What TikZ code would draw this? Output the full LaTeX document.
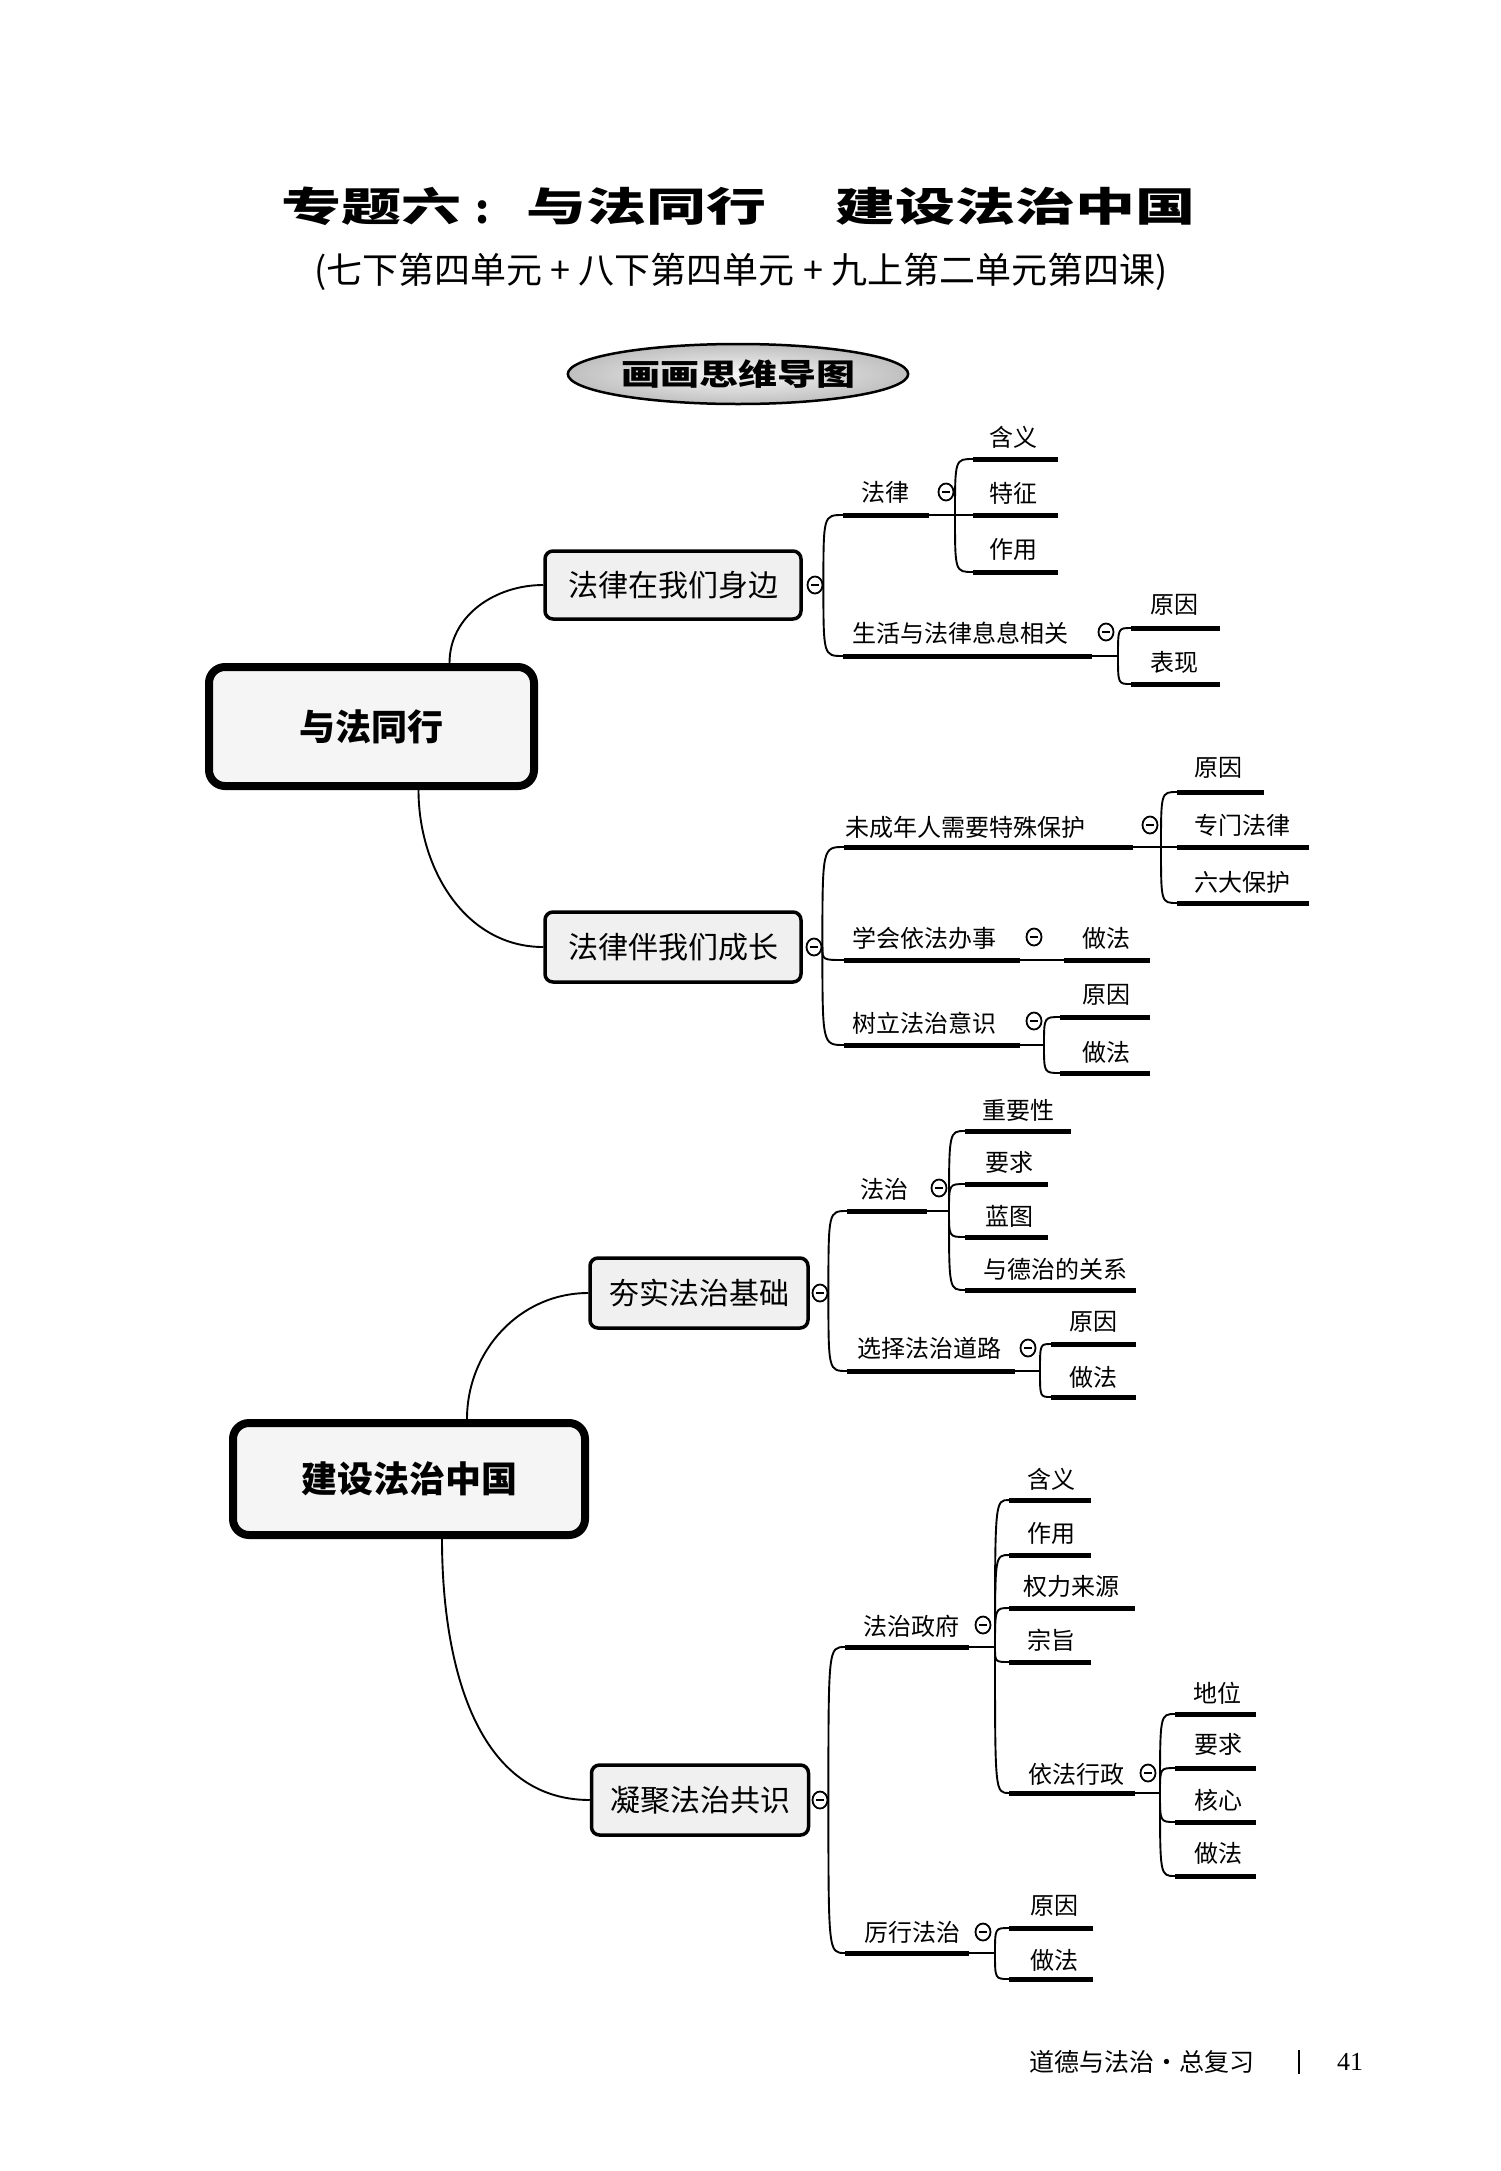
\documentclass[tikz,border=0pt]{standalone}
\usepackage{fontspec}
\setmainfont{Noto Sans CJK SC}
\newfontfamily\serifnum{Liberation Serif}
\usetikzlibrary{shapes.geometric,calc}
\newcommand\fsz[1]{\fontsize{#1}{#1}\selectfont}
\newcommand\mkul[4]{\coordinate (#1s) at (#2,-#4); \coordinate (#1e) at (#3,-#4); \draw[ulline] (#1s) -- (#1e);}
\newcommand\mktr[2]{\draw[thinl] (#1) .. controls (#1 |- #2) .. (#2);}
\begin{document}
\begin{tikzpicture}[x=1pt,y=1pt,
  thinl/.style={line width=1.9pt},
  ulline/.style={line width=5pt},
  lbl/.style={font=\fsz{24}, inner sep=0pt},
  subbox/.style={draw, line width=3.5pt, rounded corners=8pt, fill=gray!12, font=\fsz{30}, inner sep=0pt},
  mainbox/.style={draw, line width=8pt, rounded corners=16pt, fill=gray!8, font=\bfseries\fsz{36}, inner sep=0pt},
  mc/.style={ellipse, draw, line width=1.8pt, minimum width=15pt, minimum height=17pt, inner sep=0pt, fill=white,
    path picture={\draw[line width=2.2pt] ([xshift=-4pt]path picture bounding box.center) -- ([xshift=4pt]path picture bounding box.center);}},
  titlef/.style={font=\bfseries\fsz{40}, inner sep=0pt}
]
\fill[white] (0,0) rectangle (1500,-2171);
\useasboundingbox (0,0) rectangle (1500,-2171);

% ---------- title ----------
\node[titlef, anchor=west] (t1) at (281,-206) {\scalebox{1.5}[1]{专题六}};
\node[titlef] (tc) at (483,-212) {:};
\node[titlef, anchor=west] (t2) at (526,-206) {\scalebox{1.5}[1]{与法同行}};
\node[titlef, anchor=west] (t3) at (835,-206) {\scalebox{1.5}[1]{建设法治中国}};
\node[font=\fsz{36}, inner sep=0pt] (sub) at (741,-272) {(七下第四单元 + 八下第四单元 + 九上第二单元第四课)};
\node[ellipse, draw, line width=2.5pt, minimum width=330pt, minimum height=60pt, inner color=gray!6, outer color=gray!50,
  font=\bfseries\fsz{30}] (el) at (738,-374) {\scalebox{1.3}[1]{画画思维导图}};

% ---------- boxes ----------
\node[mainbox, minimum width=325pt, minimum height=119pt] (m1) at (371.5,-726.5) {与法同行};
\node[mainbox, minimum width=352pt, minimum height=112pt] (m2) at (409,-1479) {建设法治中国};
\node[subbox, minimum width=256pt, minimum height=68pt] (s1) at (673,-585) {法律在我们身边};
\node[subbox, minimum width=256pt, minimum height=70pt] (s2) at (673,-947) {法律伴我们成长};
\node[subbox, minimum width=218pt, minimum height=70pt] (s3) at (699,-1293) {夯实法治基础};
\node[subbox, minimum width=217pt, minimum height=70pt] (s4) at (700,-1800) {凝聚法治共识};

% main -> sub connectors
\draw[thinl] ($(m1.north)+(78,0)$) to[out=90,in=180] (s1.west);
\draw[thinl] ($(m1.south)+(47,0)$) to[out=-90,in=180] (s2.west);
\draw[thinl] ($(m2.north)+(58,0)$) to[out=90,in=180] (s3.west);
\draw[thinl] ($(m2.south)+(33,0)$) to[out=-90,in=180] (s4.west);

% ---------- group 1 ----------
\node[mc] (c1) at (815,-585) {};
\mkul{a1}{843}{929}{515}
\coordinate (a1j) at (955,-515); \draw[thinl] (a1e) -- (a1j);
\node[lbl] (a1t) at (885,-492) {法律};
\mkul{a11}{973}{1058}{459} \node[lbl] (a11t) at (1013,-437) {含义};
\mkul{a12}{973}{1058}{515} \node[lbl] (a12t) at (1013,-493) {特征};
\mkul{a13}{973}{1058}{572} \node[lbl] (a13t) at (1013,-549) {作用};
\mktr{a1j}{a11s} \mktr{a1j}{a12s} \mktr{a1j}{a13s}
\node[mc] (a1c) at (946,-492) {};
\mkul{a2}{843}{1092}{656}
\coordinate (a2j) at (1118,-656); \draw[thinl] (a2e) -- (a2j);
\node[lbl] (a2t) at (960,-633) {生活与法律息息相关};
\mkul{a21}{1131}{1220}{628} \node[lbl] (a21t) at (1174,-605) {原因};
\mkul{a22}{1131}{1220}{684} \node[lbl] (a22t) at (1174,-662) {表现};
\mktr{a2j}{a21s} \mktr{a2j}{a22s}
\node[mc] (a2c) at (1106,-632) {};
\mktr{c1.east}{a1s} \mktr{c1.east}{a2s}

% ---------- group 2 ----------
\node[mc] (c2) at (814,-947) {};
\mkul{b1}{844}{1133}{847}
\coordinate (b1j) at (1161,-847); \draw[thinl] (b1e) -- (b1j);
\node[lbl] (b1t) at (965,-827) {未成年人需要特殊保护};
\mkul{b11}{1177}{1264}{792} \node[lbl] (b11t) at (1218,-768) {原因};
\mkul{b12}{1177}{1309}{847} \node[lbl] (b12t) at (1242,-825) {专门法律};
\mkul{b13}{1177}{1309}{903} \node[lbl] (b13t) at (1242,-882) {六大保护};
\mktr{b1j}{b11s} \mktr{b1j}{b12s} \mktr{b1j}{b13s}
\node[mc] (b1c) at (1150,-825) {};
\mkul{b2}{844}{1020}{960}
\node[lbl] (b2t) at (924,-938) {学会依法办事};
\mkul{b21}{1064}{1150}{960} \node[lbl] (b21t) at (1106,-938) {做法};
\draw[thinl] (b2e) -- (b21s);
\node[mc] (b2c) at (1034,-937) {};
\mkul{b3}{844}{1020}{1045}
\coordinate (b3j) at (1044,-1045); \draw[thinl] (b3e) -- (b3j);
\node[lbl] (b3t) at (924,-1023) {树立法治意识};
\mkul{b31}{1060}{1150}{1017} \node[lbl] (b31t) at (1106,-995) {原因};
\mkul{b32}{1060}{1150}{1073} \node[lbl] (b32t) at (1106,-1052) {做法};
\mktr{b3j}{b31s} \mktr{b3j}{b32s}
\node[mc] (b3c) at (1034,-1021) {};
\mktr{c2.east}{b1s} \mktr{c2.east}{b2s} \mktr{c2.east}{b3s}

% ---------- group 3 ----------
\node[mc] (c3) at (820,-1293) {};
\mkul{d1}{847}{927}{1211}
\coordinate (d1j) at (949,-1211); \draw[thinl] (d1e) -- (d1j);
\node[lbl] (d1t) at (884,-1189) {法治};
\mkul{d11}{965}{1071}{1131} \node[lbl] (d11t) at (1018,-1110) {重要性};
\mkul{d12}{965}{1048}{1184} \node[lbl] (d12t) at (1009,-1162) {要求};
\mkul{d13}{965}{1048}{1237} \node[lbl] (d13t) at (1009,-1216) {蓝图};
\mkul{d14}{965}{1136}{1290} \node[lbl] (d14t) at (1055,-1269) {与德治的关系};
\mktr{d1j}{d11s} \mktr{d1j}{d12s} \mktr{d1j}{d13s} \mktr{d1j}{d14s}
\node[mc] (d1c) at (939,-1188) {};
\mkul{d2}{847}{1015}{1371}
\coordinate (d2j) at (1040,-1371); \draw[thinl] (d2e) -- (d2j);
\node[lbl] (d2t) at (929,-1348) {选择法治道路};
\mkul{d21}{1051}{1136}{1344} \node[lbl] (d21t) at (1093,-1322) {原因};
\mkul{d22}{1051}{1136}{1397} \node[lbl] (d22t) at (1093,-1377) {做法};
\mktr{d2j}{d21s} \mktr{d2j}{d22s}
\node[mc] (d2c) at (1028,-1348) {};
\mktr{c3.east}{d1s} \mktr{c3.east}{d2s}

% ---------- group 4 ----------
\node[mc] (c4) at (820,-1800) {};
\mkul{e1}{845}{969}{1647}
\coordinate (e1j) at (995,-1647); \draw[thinl] (e1e) -- (e1j);
\node[lbl] (e1t) at (911,-1626) {法治政府};
\mkul{e11}{1009}{1091}{1500} \node[lbl] (e11t) at (1051,-1479) {含义};
\mkul{e12}{1009}{1091}{1555} \node[lbl] (e12t) at (1051,-1533) {作用};
\mkul{e13}{1009}{1135}{1608} \node[lbl] (e13t) at (1071,-1586) {权力来源};
\mkul{e14}{1009}{1091}{1662} \node[lbl] (e14t) at (1051,-1640) {宗旨};
\mkul{e15}{1009}{1135}{1793} \node[lbl] (e15t) at (1076,-1774) {依法行政};
\mktr{e1j}{e11s} \mktr{e1j}{e12s} \mktr{e1j}{e13s} \mktr{e1j}{e14s} \mktr{e1j}{e15s}
\node[mc] (e1c) at (983,-1625) {};
\coordinate (e15j) at (1160,-1793); \draw[thinl] (e15e) -- (e15j);
\mkul{e151}{1175}{1256}{1714} \node[lbl] (e151t) at (1217,-1693) {地位};
\mkul{e152}{1175}{1256}{1768} \node[lbl] (e152t) at (1218,-1744) {要求};
\mkul{e153}{1175}{1256}{1822} \node[lbl] (e153t) at (1218,-1800) {核心};
\mkul{e154}{1175}{1256}{1876} \node[lbl] (e154t) at (1218,-1853) {做法};
\mktr{e15j}{e151s} \mktr{e15j}{e152s} \mktr{e15j}{e153s} \mktr{e15j}{e154s}
\node[mc] (e15c) at (1148,-1773) {};
\mkul{e2}{845}{969}{1953}
\coordinate (e2j) at (995,-1953); \draw[thinl] (e2e) -- (e2j);
\node[lbl] (e2t) at (912,-1932) {厉行法治};
\mkul{e21}{1009}{1093}{1928} \node[lbl] (e21t) at (1054,-1906) {原因};
\mkul{e22}{1009}{1093}{1979} \node[lbl] (e22t) at (1054,-1960) {做法};
\mktr{e2j}{e21s} \mktr{e2j}{e22s}
\node[mc] (e2c) at (983,-1932) {};
\mktr{c4.east}{e1s} \mktr{c4.east}{e2s}

% ---------- footer ----------
\node[font=\fsz{25}, inner sep=0pt] (foot) at (1142,-2062) {道德与法治·总复习};
\coordinate (barT) at (1299,-2050); \coordinate (barB) at (1299,-2074);
\draw[line width=1.2pt] (barT) -- (barB);
\node[font=\serifnum\fsz{26}, inner sep=0pt] (pg) at (1350,-2062) {41};
\end{tikzpicture}
\end{document}
